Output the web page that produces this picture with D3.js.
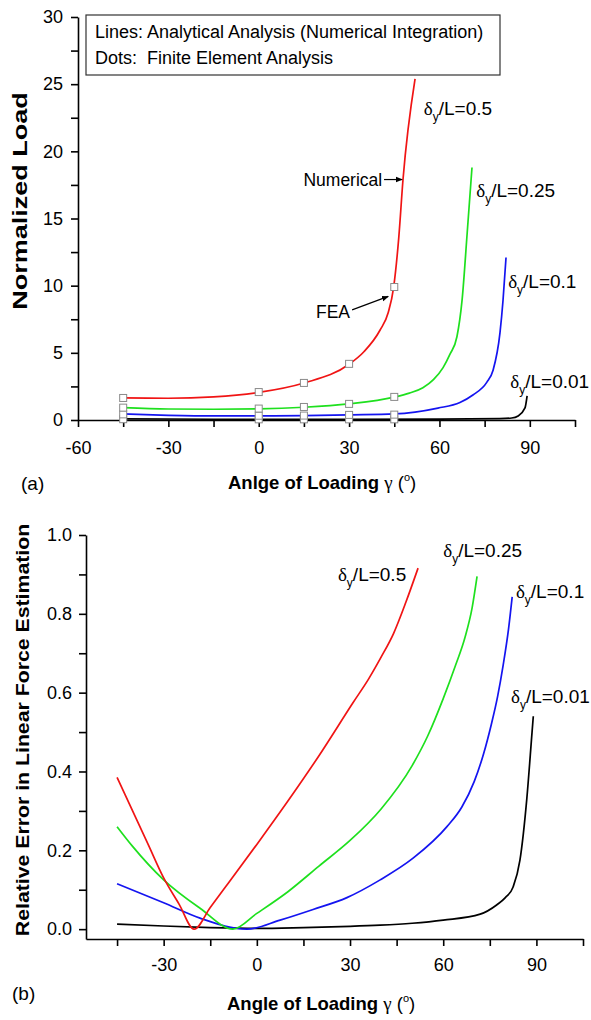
<!DOCTYPE html>
<html>
<head>
<meta charset="utf-8">
<script src="https://cdn.jsdelivr.net/npm/d3@7"></script>
<style>
body { margin: 0; background: #fff; }
text { font-family: "Liberation Sans", Arial, sans-serif; fill: #000; }
.greek { font-family: "Liberation Serif", "DejaVu Serif", serif; }
</style>
</head>
<body>
<div id="chart"></div>
<script>
// ---- panel (a): normalized load ----
let redAngleA = [-45, -30, -15, 0, 15, 30, 35, 40.3, 43, 44.8, 46.5, 47.9, 51.9];
let redLoadA = [1.64, 1.62, 1.72, 2.05, 2.75, 4.15, 5.1, 6.7, 8.0, 9.9, 13.6, 17.9, 25.4];
let greenAngleA = [-45, -30, -15, 0, 15, 30, 45, 50, 54.5, 58, 61.2, 63.5, 65.8, 67.5, 69.2, 70.8];
let greenLoadA = [0.92, 0.82, 0.8, 0.83, 0.95, 1.2, 1.7, 2.0, 2.4, 3.0, 3.9, 4.9, 6.2, 8.9, 13.9, 18.8];
let blueAngleA = [-45, -30, -15, 0, 15, 30, 45, 59.5, 66.8, 71.1, 75.7, 77.8, 80.1, 81.1, 82.1];
let blueLoadA = [0.45, 0.35, 0.3, 0.3, 0.32, 0.38, 0.45, 0.89, 1.3, 1.86, 2.8, 3.7, 6.5, 8.9, 12.1];
let blackAngleA = [-45, 0, 30, 60, 80, 84, 86.1, 88.4, 89.1];
let blackLoadA = [0.08, 0.05, 0.05, 0.06, 0.1, 0.15, 0.3, 0.9, 1.8];

// FEA points
let feaAngle = [-45, 0, 15, 30, 45];
let feaRed = [1.64, 2.08, 2.76, 4.18, 9.9];
let feaGreen = [0.92, 0.85, 0.97, 1.2, 1.72];
let feaBlue = [0.42, 0.32, 0.33, 0.38, 0.4];
let feaBlack = [0.06, 0.05, 0.05, 0.05, 0.05];

// ---- panel (b): relative error ----
let redAngleB = [-45, -40, -35, -30, -25, -20.2, -15, -10, 0, 10, 20, 31, 36, 40, 44, 48, 51.9];
let redErrB = [0.385, 0.3, 0.215, 0.13, 0.063, 0.0, 0.055, 0.108, 0.215, 0.325, 0.44, 0.575, 0.635, 0.69, 0.75, 0.83, 0.916];
let greenAngleB = [-45, -40, -30, -18.3, -7.7, 0, 10, 20, 30, 40, 50, 55, 60, 64, 67, 69.3, 70.9];
let greenErrB = [0.26, 0.21, 0.125, 0.053, 0.0, 0.04, 0.095, 0.16, 0.225, 0.305, 0.415, 0.49, 0.585, 0.67, 0.74, 0.815, 0.895];
let blueAngleB = [-45, -30, -18.3, -3.2, 7.5, 18.1, 29, 39.7, 50.3, 61.2, 66, 70, 73, 75.5, 77.5, 79.3, 81, 82.2];
let blueErrB = [0.115, 0.067, 0.028, 0.0, 0.023, 0.05, 0.08, 0.125, 0.18, 0.26, 0.31, 0.375, 0.445, 0.52, 0.59, 0.67, 0.76, 0.843];
let blackAngleB = [-45, -30, -15, 0, 15, 30, 39.7, 50, 60, 71.9, 77.3, 80, 82.5, 84.7, 86.9, 88.6, 89];
let blackErrB = [0.013, 0.008, 0.004, 0.002, 0.004, 0.007, 0.01, 0.015, 0.023, 0.038, 0.062, 0.08, 0.107, 0.175, 0.33, 0.5, 0.54];

let seriesLabels = ["0.5", "0.25", "0.1", "0.01"];
let colors = ["#f01414", "#1ee01e", "#1414f0", "#000000"];

// tick values
let xMajorA = [-60, -30, 0, 30, 60, 90];
let xMinorA = [-45, -15, 15, 45, 75, 105];
let yMajorA = [0, 5, 10, 15, 20, 25, 30];
let yMinorA = [2.5, 7.5, 12.5, 17.5, 22.5, 27.5];
let xMajorB = [-30, 0, 30, 60, 90];
let xMinorB = [-45, -15, 15, 45, 75, 105];
let yMajorB = [0, 0.2, 0.4, 0.6, 0.8, 1.0];
let yMinorB = [0.1, 0.3, 0.5, 0.7, 0.9];

const W = 591, H = 1020;
let svg = d3.select("#chart").append("svg")
    .attr("width", W)
    .attr("height", H);

let defs = svg.append("defs");
defs.append("marker")
    .attr("id", "arrow")
    .attr("viewBox", "0 0 10 10")
    .attr("refX", 9).attr("refY", 5)
    .attr("markerWidth", 7).attr("markerHeight", 7)
    .attr("markerUnits", "userSpaceOnUse")
    .attr("orient", "auto")
  .append("path")
    .attr("d", "M0,1 L10,5 L0,9 Z")
    .attr("fill", "#000");

// scales
let xA = d3.scaleLinear().domain([-60, 105]).range([78, 575]);
let yA = d3.scaleLinear().domain([0, 30]).range([420, 17]);
let xB = d3.scaleLinear().domain([-55, 105]).range([86, 583]);
let yB = d3.scaleLinear().domain([-0.025, 1.0]).range([939, 535]);

// plain hyphen for negatives, like the original
let fmtInt = d => String(d);

function drawAxes(x, y, xMaj, xMin, yMaj, yMin, fmtY, xPad, yPad) {
    let yBase = y.range()[0];
    let xBase = x.range()[0];

    let gx = svg.append("g").attr("transform", "translate(0," + yBase + ")");
    gx.call(d3.axisBottom(x).tickValues(xMaj).tickSize(7).tickSizeOuter(0).tickPadding(xPad).tickFormat(fmtInt));
    let gxm = svg.append("g").attr("transform", "translate(0," + yBase + ")");
    gxm.call(d3.axisBottom(x).tickValues(xMin).tickSize(7).tickFormat(""));
    gxm.select(".domain").remove();

    let gy = svg.append("g").attr("transform", "translate(" + xBase + ",0)");
    gy.call(d3.axisLeft(y).tickValues(yMaj).tickSize(7).tickSizeOuter(0).tickPadding(yPad).tickFormat(fmtY));
    let gym = svg.append("g").attr("transform", "translate(" + xBase + ",0)");
    gym.call(d3.axisLeft(y).tickValues(yMin).tickSize(7).tickFormat(""));
    gym.select(".domain").remove();

    [gx, gxm, gy, gym].forEach(g => {
        g.selectAll("path, line").attr("stroke", "#000").attr("stroke-width", 1.6);
        g.selectAll("text")
            .style("font-family", "'Liberation Sans', Arial, sans-serif")
            .style("font-size", "18px")
            .attr("fill", "#000");
    });
}

function drawLine(x, y, angles, values, color) {
    let pts = angles.map((a, i) => [a, values[i]]);
    svg.append("path")
        .datum(pts)
        .attr("fill", "none")
        .attr("stroke", color)
        .attr("stroke-width", 1.7)
        .attr("d", d3.line()
            .curve(d3.curveMonotoneX)
            .x(d => x(d[0]))
            .y(d => y(d[1])));
}

function drawLabel(px, py, value) {
    let t = svg.append("text")
        .attr("x", px).attr("y", py)
        .style("font-size", "19px");
    t.append("tspan").attr("class", "greek").text("\u03b4");
    t.append("tspan").attr("dy", 6).style("font-size", "12px").text("y");
    t.append("tspan").attr("dy", -6).text("/L=" + value);
}

function axisTitle(px, py, first) {
    let t = svg.append("text")
        .attr("x", px).attr("y", py)
        .style("font-size", "18.5px");
    t.append("tspan").style("font-weight", "bold").text(first + " ");
    t.append("tspan").attr("class", "greek").style("font-size", "19px").text("\u03b3");
    t.append("tspan").text(" (");
    t.append("tspan").attr("dy", -8).style("font-size", "11px").text("o");
    t.append("tspan").attr("dy", 8).text(")");
}

// ===== panel (a) =====
drawAxes(xA, yA, xMajorA, xMinorA, yMajorA, yMinorA, fmtInt, 14, 8);

drawLine(xA, yA, blackAngleA, blackLoadA, colors[3]);
drawLine(xA, yA, blueAngleA, blueLoadA, colors[2]);
drawLine(xA, yA, greenAngleA, greenLoadA, colors[1]);
drawLine(xA, yA, redAngleA, redLoadA, colors[0]);

[feaBlack, feaBlue, feaGreen, feaRed].forEach(vals => {
    svg.append("g").selectAll("rect")
        .data(feaAngle.map((a, i) => [a, vals[i]]))
        .enter()
        .append("rect")
            .attr("x", d => xA(d[0]) - 3.5)
            .attr("y", d => yA(d[1]) - 3.5)
            .attr("width", 7)
            .attr("height", 7)
            .attr("fill", "#fff")
            .attr("stroke", "#8a8a8a")
            .attr("stroke-width", 1);
});

// legend box
svg.append("rect")
    .attr("x", 86).attr("y", 15)
    .attr("width", 414).attr("height", 60)
    .attr("fill", "#fff")
    .attr("stroke", "#333")
    .attr("stroke-width", 1.2);
svg.append("text")
    .attr("x", 95).attr("y", 38)
    .style("font-size", "18px")
    .text("Lines: Analytical Analysis (Numerical Integration)");
svg.append("text")
    .attr("x", 95).attr("y", 64)
    .style("font-size", "18px")
    .style("white-space", "pre")
    .text("Dots:  Finite Element Analysis");

// series labels (a)
drawLabel(xA(54.8), yA(22.7), seriesLabels[0]);
drawLabel(xA(72.2), yA(16.6), seriesLabels[1]);
drawLabel(xA(82.8), yA(9.8), seriesLabels[2]);
drawLabel(xA(83.5), yA(2.4), seriesLabels[3]);

// Numerical / FEA pointers
svg.append("text")
    .attr("x", xA(41.0)).attr("y", yA(17.4))
    .attr("text-anchor", "end")
    .style("font-size", "17.5px")
    .text("Numerical");
svg.append("line")
    .attr("x1", xA(41.6)).attr("y1", yA(17.9))
    .attr("x2", xA(47.6)).attr("y2", yA(17.9))
    .attr("stroke", "#000").attr("stroke-width", 1.2)
    .attr("marker-end", "url(#arrow)");
svg.append("text")
    .attr("x", xA(19.0)).attr("y", yA(7.6))
    .style("font-size", "17.5px")
    .text("FEA");
svg.append("line")
    .attr("x1", xA(31.0)).attr("y1", yA(8.2))
    .attr("x2", xA(43.0)).attr("y2", yA(9.2))
    .attr("stroke", "#000").attr("stroke-width", 1.2)
    .attr("marker-end", "url(#arrow)");

axisTitle(228, 489, "Anlge of Loading");
svg.append("text")
    .attr("transform", "translate(27,201) rotate(-90) scale(1.35,1)")
    .attr("text-anchor", "middle")
    .style("font-size", "20px")
    .style("font-weight", "bold")
    .text("Normalized Load");
svg.append("text")
    .attr("x", 21).attr("y", 490)
    .style("font-size", "19px")
    .text("(a)");

// ===== panel (b) =====
drawAxes(xB, yB, xMajorB, xMinorB, yMajorB, yMinorB, d3.format(".1f"), 12, 7);

drawLine(xB, yB, blackAngleB, blackErrB, colors[3]);
drawLine(xB, yB, blueAngleB, blueErrB, colors[2]);
drawLine(xB, yB, greenAngleB, greenErrB, colors[1]);
drawLine(xB, yB, redAngleB, redErrB, colors[0]);

drawLabel(xB(26.1), yB(0.883), seriesLabels[0]);
drawLabel(xB(60.0), yB(0.945), seriesLabels[1]);
drawLabel(xB(83.4), yB(0.84), seriesLabels[2]);
drawLabel(xB(81.8), yB(0.574), seriesLabels[3]);

axisTitle(227, 1010, "Angle of Loading");
svg.append("text")
    .attr("transform", "translate(29,730) rotate(-90) scale(1.12,1)")
    .attr("text-anchor", "middle")
    .style("font-size", "19px")
    .style("font-weight", "bold")
    .text("Relative Error in Linear Force Estimation");
svg.append("text")
    .attr("x", 12).attr("y", 1000)
    .style("font-size", "19px")
    .text("(b)");
</script>
</body>
</html>
